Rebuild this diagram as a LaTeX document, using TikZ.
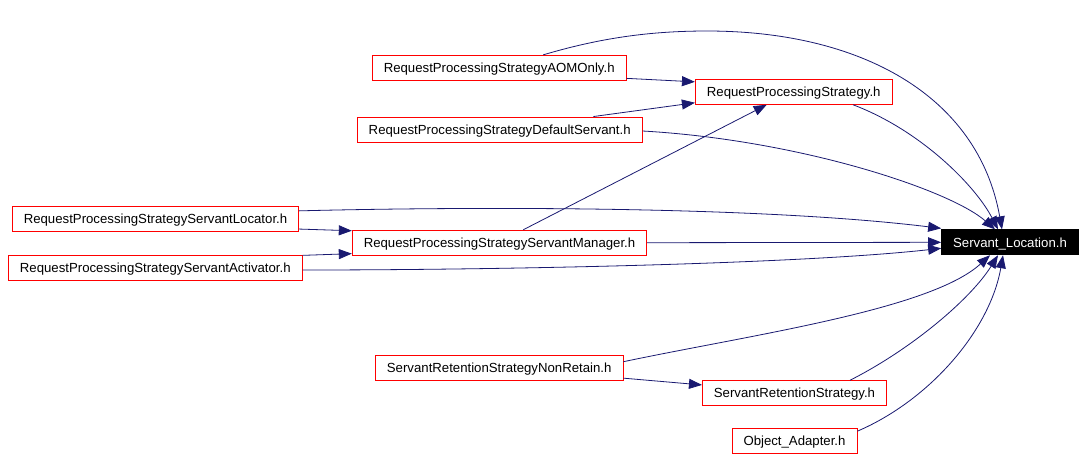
\documentclass[tikz,border=0pt]{standalone}
\usepackage{fontspec}
\setmainfont{Liberation Sans}
\usetikzlibrary{arrows.meta,calc}
\definecolor{edgeblue}{HTML}{191970}
\begin{document}
\begin{tikzpicture}[x=1pt,y=-1pt,
    hfile/.style={draw=red,line width=0.9pt,fill=white,inner xsep=11.5pt,minimum height=25pt,
      text height=9.5pt,text depth=0.1pt,font=\fontsize{13.2}{15}\selectfont},
    mainfile/.style={hfile,draw=black,fill=black,text=white},
    dep/.style={edgeblue,line width=0.8pt,-{Triangle[length=13pt,width=10pt]}}]
    \useasboundingbox (0,0) rectangle (1085,459);
    % header nodes
    \node[hfile] (aom) at (499.2,67.8) {RequestProcessingStrategyAOMOnly.h};
    \node[hfile] (rps) at (793.7,91.8) {RequestProcessingStrategy.h};
    \node[hfile] (ds) at (499.7,129.5) {RequestProcessingStrategyDefaultServant.h};
    \node[hfile] (sloc) at (155.5,218.8) {RequestProcessingStrategyServantLocator.h};
    \node[hfile] (sm) at (499.5,242.7) {RequestProcessingStrategyServantManager.h};
    \node[hfile] (sa) at (155.3,268) {RequestProcessingStrategyServantActivator.h};
    \node[mainfile] (sl) at (1010,242.3) {Servant\_Location.h};
    \node[hfile] (nr) at (499.2,367.5) {ServantRetentionStrategyNonRetain.h};
    \node[hfile] (srs) at (794.5,393.2) {ServantRetentionStrategy.h};
    \node[hfile] (oa) at (794.5,440.7) {Object\_Adapter.h};
    % includes
    \draw[dep] ($(aom.south east)+(0,-2.4)$) -- ($(rps.north west)+(0,3)$);
    \draw[dep] ($(ds.north)+(93.6,0)$) -- ($(rps.south west)+(0,-2)$);
    \draw[dep] ($(sm.north)+(23.8,0)$) -- ($(rps.south)+(-27,0)$);
    \draw[dep] ($(aom.north)+(44,0)$) .. controls (600,38) and (650,31) .. (707,31)
        .. controls (860,31) and (978,95) .. ($(sl.north)+(-8,0)$);
    \draw[dep] ($(rps.south)+(59.3,0)$) .. controls (920,130) and (975,185) .. ($(sl.north)+(-12,0)$);
    \draw[dep] ($(ds.east)+(0,1.5)$) .. controls (800,140) and (950,190) .. ($(sl.north)+(-15,0)$);
    \draw[dep] ($(sloc.south east)+(0,-2.7)$) -- ($(sm.north west)+(0,1)$);
    \draw[dep] ($(sloc.north east)+(0,5)$) .. controls (450,207) and (750,205) .. ($(sl.north west)+(0,-1)$);
    \draw[dep] (sm.east) -- (sl.west);
    \draw[dep] ($(sa.north east)+(0,0.3)$) -- ($(sm.south west)+(0,-2)$);
    \draw[dep] ($(sa.east)+(0,2)$) .. controls (500,270) and (800,264) .. ($(sl.west)+(0,6)$);
    \draw[dep] ($(nr.east)+(0,-5.8)$) .. controls (750,335) and (930,310) .. ($(sl.south)+(-20,0)$);
    \draw[dep] ($(nr.south east)+(0,-2.3)$) -- ($(srs.north west)+(0,4.7)$);
    \draw[dep] ($(srs.north)+(55.5,0)$) .. controls (910,350) and (970,300) .. ($(sl.south)+(-12,0)$);
    \draw[dep] ($(oa.north east)+(0,3.4)$) .. controls (930,400) and (990,330) .. ($(sl.south)+(-7,0)$);
\end{tikzpicture}
\end{document}
